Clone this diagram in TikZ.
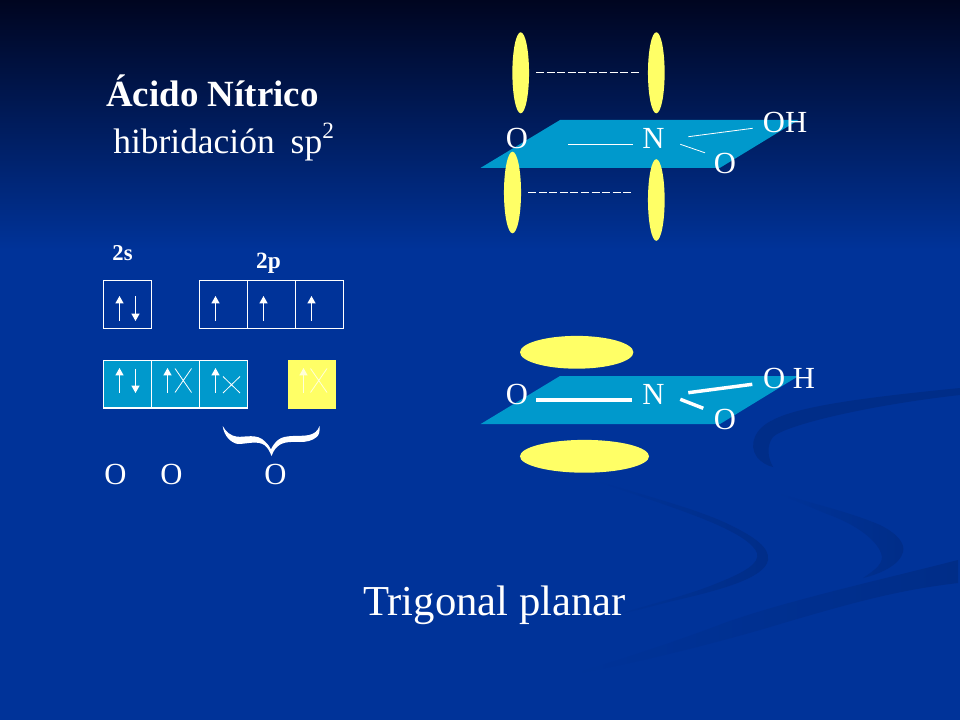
\documentclass[tikz,border=0pt]{standalone}
\usepackage{fontspec}
\setmainfont{Liberation Serif}
\usetikzlibrary{arrows.meta,shapes.geometric}
\definecolor{bgblue}{HTML}{003399}
\definecolor{bgtop}{HTML}{000520}
\definecolor{swoosh}{HTML}{002D88}
\definecolor{plane}{HTML}{0099CC}
\definecolor{lobe}{HTML}{FFFF66}
\tikzset{
 x=0.75pt,y=-0.75pt,
 lbl/.style={text=white,inner sep=0pt,font=\fontsize{23}{23}\selectfont},
 orb/.style={draw=white,line width=0.9pt},
 spin/.style={white,line width=0.8pt,-{Triangle[length=5.5pt,width=6pt]}},
 thin line/.style={white,line width=0.6pt},
 thick line/.style={white,line width=2.6pt},
 lobes/.style={ellipse,fill=lobe,inner sep=0pt},
 dashes/.style={white,line width=0.6pt,dash pattern=on 6pt off 1.9pt},
 swoop/.style={left color=bgblue,right color=swoosh},
}
\begin{document}
\begin{tikzpicture}
\useasboundingbox (0,0) rectangle (960,720);
\fill[bgblue] (0,0) rectangle (960,720);
\shade[top color=bgtop,bottom color=bgblue] (0,0) rectangle (960,250);
% background swooshes
\fill[swoosh] (960,388) .. controls (880,396) and (800,405) .. (773,420) .. controls (755,428) and (748,445) .. (757,457) .. controls (762,463) and (768,466) .. (773,467) .. controls (768,458) and (766,446) .. (773,437) .. controls (785,425) and (870,405) .. (960,395) -- cycle;
\shade[swoop] (593,480) .. controls (650,497) and (700,510) .. (730,525) .. controls (755,537) and (770,548) .. (768,560) .. controls (765,578) and (720,590) .. (677,600) .. controls (655,605) and (640,610) .. (623,613) .. controls (650,604) and (690,595) .. (720,582) .. controls (745,572) and (760,563) .. (757,553) .. controls (750,535) and (700,517) .. (660,503) -- cycle;
\shade[swoop] (777,493) .. controls (810,503) and (850,512) .. (880,525) .. controls (900,535) and (905,545) .. (903,552) .. controls (900,565) and (880,574) .. (863,578) .. controls (875,570) and (885,563) .. (881,553) .. controls (875,537) and (850,522) .. (827,514) -- cycle;
\shade[swoop] (958,560) -- (958,583) .. controls (900,590) and (860,600) .. (760,630) .. controls (700,647) and (640,662) .. (570,675) .. controls (620,660) and (680,640) .. (727,622) .. controls (790,600) and (880,580) .. (958,560) -- cycle;
% titles
\node[anchor=base west,text=white,inner sep=0pt,font=\fontsize{27.7}{28}\selectfont\bfseries] (title) at (106,106.5) {Ácido Nítrico};
\node[anchor=base west,text=white,inner sep=0pt,font=\fontsize{26.6}{27}\selectfont] (hyb) at (113,153.5) {hibridación\hspace{0.2em} sp\raisebox{0.42em}{\fontsize{17.5}{18}\selectfont 2}};
\node[anchor=base,text=white,inner sep=0pt,font=\fontsize{32}{32}\selectfont] (geom) at (494.5,615) {Trigonal planar};
% orbital labels
\node[anchor=base,text=white,inner sep=0pt,font=\fontsize{17}{17}\selectfont\bfseries] (s) at (122.5,260.5) {2s};
\node[anchor=base,text=white,inner sep=0pt,font=\fontsize{17.5}{18}\selectfont\bfseries] (p) at (268.5,268.5) {2p};
% orbital boxes
\draw[orb] (103.5,280.5) rectangle (151.5,328.5);
\draw[orb] (199.5,280.5) rectangle (343.5,328.5) (247.5,280.5) -- (247.5,328.5) (295.5,280.5) -- (295.5,328.5);
\draw[orb,fill=plane] (103.5,360.5) rectangle (247.5,408) (151.5,360.5) -- (151.5,408) (199.5,360.5) -- (199.5,408);
\fill[lobe] (287.5,360) rectangle (336,408.5);
% spins
\foreach \x in {119.5,215.5,263.5,311.5} \draw[spin] (\x,321) -- (\x,296);
\draw[spin] (135.5,296.5) -- (135.5,321);
\foreach \x in {119.5,167.5,215.5} \draw[spin] (\x,393) -- (\x,368);
\draw[spin] (135.5,368.5) -- (135.5,393);
\draw[thin line] (175,392.5) -- (191.5,368.5) (175,368.5) -- (191.5,392.5);
\draw[thin line] (223,393) -- (240,376.5) (223,376.5) -- (240,393);
\draw[spin,white!75!lobe] (303.5,393) -- (303.5,368);
\draw[thin line,white!75!lobe] (310.5,392.5) -- (327,368.5) (310.5,368.5) -- (327,392.5);
% brace
\fill[white] (222.7,426) .. controls (226,432) and (231,436) .. (237,436.7) .. controls (245,437.5) and (257,433) .. (265,441.5) .. controls (268,444.5) and (270,447) .. (271,449.5) .. controls (272,447) and (274,443.5) .. (278,440) .. controls (285,434) and (300,437) .. (309,435) .. controls (314,434) and (318,431) .. (319.5,426) .. controls (320,432) and (319,435) .. (316.7,437) .. controls (312,441) and (306,442) .. (300,442) .. controls (292,442) and (283,441) .. (277,447) .. controls (274,450) and (272.5,453) .. (271.5,456) .. controls (270,452) and (268,448) .. (265,445.5) .. controls (258,440) and (247,444) .. (238,444) .. controls (231,443) and (224,436) .. (222.7,426) -- cycle;
\node[lbl] (o1) at (115.5,474) {O};
\node[lbl] (o2) at (171.5,474) {O};
\node[lbl] (o3) at (275.5,474) {O};
% top structure
\fill[plane] (480.7,167.8) -- (560,120) -- (798.5,120) -- (720,167.8) -- cycle;
\node[lobes,minimum width=12.5pt,minimum height=60.8pt] (la) at (520.7,72.8) {};
\node[lobes,minimum width=12.5pt,minimum height=60.8pt] (lb) at (656.3,72.8) {};
\node[lobes,minimum width=12.8pt,minimum height=61.2pt] (lc) at (512.5,192.5) {};
\node[lobes,minimum width=12.5pt,minimum height=61.2pt] (ld) at (656.3,200) {};
\coordinate (da1) at (536,72.5); \coordinate (da2) at (641,72.5);
\coordinate (db1) at (528.3,192.5); \coordinate (db2) at (633,192.5);
\draw[dashes] (da1) -- (da2);
\draw[dashes] (db1) -- (db2);
\node[lbl] (to) at (517,138.5) {O};
\node[lbl] (tn) at (653.5,138.5) {N};
\node[lbl] (tp) at (725,163) {O};
\node[lbl] (th) at (785,122.5) {OH};
\coordinate (ta1) at (568,144.5); \coordinate (ta2) at (632.8,144.5);
\coordinate (tb1) at (688.3,136.7); \coordinate (tb2) at (752.7,128.3);
\coordinate (tc1) at (680.3,144.3); \coordinate (tc2) at (705,152.8);
\draw[thin line] (ta1) -- (ta2);
\draw[thin line] (tb1) -- (tb2);
\draw[thin line] (tc1) -- (tc2);
% bottom structure
\fill[plane] (480.7,424) -- (560,376) -- (798.5,376) -- (720,424) -- cycle;
\node[lobes,minimum width=85pt,minimum height=24.6pt] (le) at (576.7,352.3) {};
\node[lobes,minimum width=96.8pt,minimum height=24.6pt] (lf) at (584.5,456.3) {};
\node[lbl] (bo) at (517,394.5) {O};
\node[lbl] (bn) at (653.5,394.5) {N};
\node[lbl] (bp) at (725,419) {O};
\node[lbl] (bh) at (789,378.5) {O H};
\coordinate (ba1) at (536,400); \coordinate (ba2) at (632,400);
\coordinate (bb1) at (688.3,392.7); \coordinate (bb2) at (752.3,384.3);
\coordinate (bc1) at (680.3,399.3); \coordinate (bc2) at (703.3,408.3);
\draw[thick line] (ba1) -- (ba2);
\draw[thick line] (bb1) -- (bb2);
\draw[thick line] (bc1) -- (bc2);
\end{tikzpicture}
\end{document}
